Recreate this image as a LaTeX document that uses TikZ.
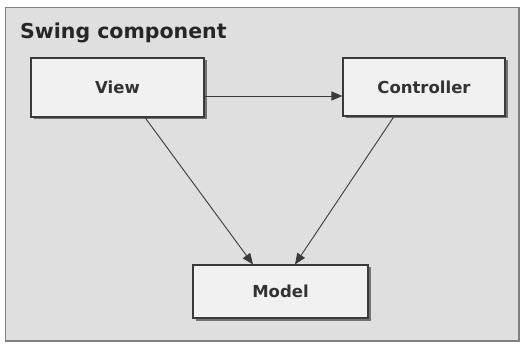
\documentclass[tikz,border=0pt]{standalone}
\usepackage{fontspec}
\setmainfont{DejaVu Sans}
\usetikzlibrary{arrows.meta,shadows}
\definecolor{panelbg}{HTML}{DFDFDF}
\definecolor{boxbg}{HTML}{F1F1F1}
\definecolor{edge}{HTML}{3A3A3A}
\tikzset{
  comp/.style={draw=edge, line width=1.1pt, fill=boxbg, inner sep=0pt,
    font=\bfseries\fontsize{16.5}{20}\selectfont, text=black!80,
    general shadow={fill=black!55, shadow xshift=2.5pt, shadow yshift=-2.5pt}},
  link/.style={draw=edge, line width=0.9pt, -{Triangle[length=11pt,width=9pt]}}
}
\begin{document}
\begin{tikzpicture}[x=1pt,y=-1pt]
  \useasboundingbox (0,0) rectangle (524,344);
  % panel
  \fill[white] (0,0) rectangle (524,344);
  \draw[fill=panelbg, draw=black!50, line width=1.8pt] (5.5,7.5) rectangle (519,341);
  \node[anchor=base west, inner sep=0pt, font=\bfseries\fontsize{20.5}{24}\selectfont, text=black!85]
    (title) at (20,39) {Swing component};
  % components
  \node[comp, minimum width=173pt, minimum height=59pt] (view) at (117.5,87.5) {View};
  \node[comp, minimum width=162pt, minimum height=58pt] (ctrl) at (424,87) {Controller};
  \node[comp, minimum width=175pt, minimum height=53pt] (model) at (280.5,291.5) {Model};
  % connectors
  \draw[link] (view.east |- 0,96) -- (ctrl.west |- 0,96);
  \draw[link] ([xshift=27.5pt]view.south) -- ([xshift=-27.5pt]model.north);
  \draw[link] ([xshift=-30pt]ctrl.south) -- ([xshift=14.5pt]model.north);
\end{tikzpicture}
\end{document}
